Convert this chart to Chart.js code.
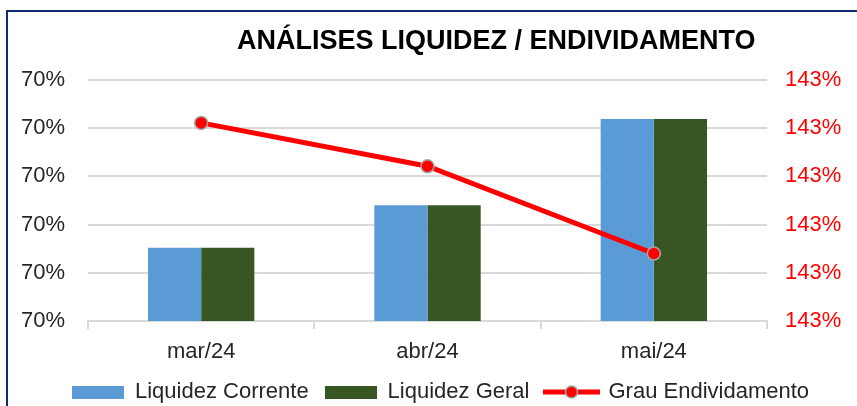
<!DOCTYPE html>
<html>
<head>
<meta charset="utf-8">
<script src="https://cdn.jsdelivr.net/npm/chart.js@4.4.0/dist/chart.umd.min.js"></script>
<style>
  html, body { margin: 0; padding: 0; background: #fff; }
  #wrap { position: relative; width: 857px; height: 406px; overflow: hidden; }
  #frame { position: absolute; left: 6px; top: 10px; width: 900px; height: 500px;
           border-top: 2px solid #0f2b6b; border-left: 2px solid #0f2b6b; }
  #title { position: absolute; left: 237px; top: 25px; font: bold 27px "Liberation Sans", Arial, sans-serif;
           color: #000; white-space: nowrap; }
  canvas { position: absolute; left: 0; top: 0; }
</style>
</head>
<body>
<div id="wrap">
  <div id="frame"></div>
  <canvas id="liqChart" width="857" height="406"></canvas>
  <div id="title">ANÁLISES LIQUIDEZ / ENDIVIDAMENTO</div>
</div>
<script>
// data
const months = ['mar/24', 'abr/24', 'mai/24'];
const liqCorrente = [0.69952, 0.70040, 0.70219];
const liqGeral = [0.69952, 0.70040, 0.70219];
const grauEndiv = [1.43311, 1.43221, 1.43040];

const FONT = '"Liberation Sans", Arial, sans-serif';

// legend icons as small canvases
function boxIcon(color) {
  const c = document.createElement('canvas');
  c.width = 52; c.height = 13;
  const g = c.getContext('2d');
  g.fillStyle = color;
  g.fillRect(0, 0, 52, 13);
  return c;
}
function lineIcon() {
  const c = document.createElement('canvas');
  c.width = 57; c.height = 16;
  const g = c.getContext('2d');
  g.strokeStyle = '#ff0000';
  g.lineWidth = 5;
  g.beginPath(); g.moveTo(0, 8); g.lineTo(57, 8); g.stroke();
  g.fillStyle = '#ff0000';
  g.strokeStyle = '#a6a6a6';
  g.lineWidth = 1.5;
  g.beginPath(); g.arc(28.5, 8, 6, 0, Math.PI * 2); g.fill(); g.stroke();
  return c;
}
const icons = [boxIcon('#5b9bd5'), boxIcon('#375623'), lineIcon()];

const pct = v => Math.round(v * 100) + '%';

// legend in the original sits a bit right of centre
const shiftLegend = {
  id: 'shiftLegend',
  beforeDraw(ch) {
    ch.legend.left += 12;
    ch.legend.right += 12;
  }
};

const chart = new Chart(document.getElementById('liqChart'), {
  type: 'bar',
  data: {
    labels: months,
    datasets: [{
      label: 'Liquidez Corrente',
      data: liqCorrente,
      backgroundColor: '#5b9bd5',
      yAxisID: 'y',
      order: 1,
      categoryPercentage: 0.47,
      barPercentage: 1
    }, {
      label: 'Liquidez Geral',
      data: liqGeral,
      backgroundColor: '#375623',
      yAxisID: 'y',
      order: 1,
      categoryPercentage: 0.47,
      barPercentage: 1
    }, {
      type: 'line',
      label: 'Grau Endividamento',
      data: grauEndiv,
      borderColor: '#ff0000',
      borderWidth: 5,
      pointRadius: 6.5,
      pointBackgroundColor: '#ff0000',
      pointBorderColor: '#a6a6a6',
      pointBorderWidth: 1.5,
      tension: 0,
      yAxisID: 'y1',
      order: 0
    }]
  },
  options: {
    responsive: false,
    animation: false,
    layout: { padding: { top: 80, left: 0, right: 0, bottom: -7 } },
    scales: {
      x: {
        grid: { drawOnChartArea: false, color: '#d9d9d9', lineWidth: 2, tickLength: 8 },
        border: { color: '#d9d9d9', width: 2 },
        ticks: { color: '#262626', font: { family: FONT, size: 22 }, padding: 10 },
        afterFit(scale) { scale.height = 44; }
      },
      y: {
        position: 'left',
        min: 0.698,
        max: 0.703,
        ticks: { stepSize: 0.001, callback: pct, color: '#262626', font: { family: FONT, size: 22 }, padding: 23 },
        grid: { color: '#d9d9d9', lineWidth: 2, drawTicks: false },
        border: { display: false },
        afterFit(scale) { scale.width = 88; }
      },
      y1: {
        position: 'right',
        min: 1.429,
        max: 1.434,
        ticks: { stepSize: 0.001, callback: pct, color: '#ff0000', font: { family: FONT, size: 22 }, padding: 18 },
        grid: { display: false, drawTicks: false },
        border: { display: false },
        afterFit(scale) { scale.width = 90; }
      }
    },
    plugins: {
      tooltip: { enabled: false },
      legend: {
        position: 'bottom',
        labels: {
          usePointStyle: true,
          pointStyleWidth: 52,
          padding: 16,
          color: '#262626',
          font: { family: FONT, size: 22 },
          sort: (a, b) => a.datasetIndex - b.datasetIndex,
          generateLabels(ch) {
            const items = Chart.defaults.plugins.legend.labels.generateLabels(ch);
            items.forEach(it => { it.pointStyle = icons[it.datasetIndex]; });
            return items;
          }
        }
      }
    }
  },
  plugins: [shiftLegend]
});
</script>
</body>
</html>
